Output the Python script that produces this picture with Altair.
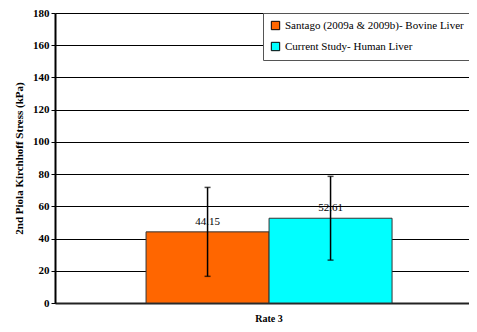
import altair as alt
import pandas as pd

series = ["Santago (2009a & 2009b)- Bovine Liver", "Current Study- Human Liver"]
rates = ["Rate 3", "Rate 3"]
values = [44.15, 52.61]
errors = [27.6, 26.0]
colors = ["#FF6600", "#00FFFF"]
y_ticks = [0, 20, 40, 60, 80, 100, 120, 140, 160, 180]

df = pd.DataFrame({"rate": rates, "series": series, "value": values, "err": errors})
df["lo"] = df["value"] - df["err"]
df["hi"] = df["value"] + df["err"]
df["label"] = df["value"].map(lambda v: f"{v:.2f}")

FONT = "Times New Roman, Liberation Serif, serif"

x = alt.X("rate:N", title=None,
          scale=alt.Scale(paddingInner=0, paddingOuter=0.3415, align=0.542),
          axis=alt.Axis(labelAngle=0, ticks=False, labelFont=FONT, labelFontWeight="bold",
                        labelFontSize=10, labelColor="black", labelPadding=10,
                        domainColor="#222", domainWidth=2))
xo = alt.XOffset("series:N", sort=series)

yscale = alt.Scale(domain=[0, 180], nice=False, zero=True)
yaxis = alt.Axis(values=y_ticks, tickCount=10, grid=True, gridColor="black",
                 gridWidth=1, domainColor="black", domainWidth=2,
                 labelOverlap=False, labelBound=False, labelFlush=False,
                 tickColor="black", tickSize=4, labelFont=FONT,
                 labelFontWeight="bold", labelFontSize=11, labelColor="black",
                 titleFont=FONT, titleFontWeight="bold", titleFontSize=11,
                 titleColor="black", titlePadding=8)
YT = "2nd Piola Kirchhoff Stress (kPa)"

base = alt.Chart(df)

bars = base.mark_bar(stroke="#333", strokeWidth=1).encode(
    x=x, xOffset=xo,
    y=alt.Y("value:Q", title=YT, scale=yscale, axis=yaxis),
    color=alt.Color("series:N", sort=series,
                    scale=alt.Scale(domain=series, range=colors),
                    legend=alt.Legend(title=None, orient="none", legendX=208, legendY=0,
                                      symbolType="square", symbolSize=70,
                                      symbolStrokeColor="black", symbolStrokeWidth=1,
                                      labelFont=FONT, labelFontSize=11, labelColor="black",
                                      fillColor="white", strokeColor="#555",
                                      padding=7, rowPadding=8, labelLimit=300)),
)

rules = base.mark_rule(color="black", strokeWidth=1.5).encode(
    x=x, xOffset=xo, y=alt.Y("lo:Q", title=YT, scale=yscale, axis=yaxis), y2="hi:Q")
caps_hi = base.mark_tick(color="black", thickness=1.5, size=6).encode(
    x=x, xOffset=xo, y=alt.Y("hi:Q", title=YT, scale=yscale, axis=yaxis))
caps_lo = base.mark_tick(color="black", thickness=1.5, size=6).encode(
    x=x, xOffset=xo, y=alt.Y("lo:Q", title=YT, scale=yscale, axis=yaxis))
labels = base.mark_text(font=FONT, fontSize=11, color="black", baseline="bottom", dy=-5).encode(
    x=x, xOffset=xo, y=alt.Y("value:Q", title=YT, scale=yscale, axis=yaxis), text="label:N")

chart = alt.layer(bars, rules, caps_hi, caps_lo, labels).properties(
    width=414, height=290,
    autosize=alt.AutoSizeParams(type="none"),
    padding={"left": 47, "top": 5, "right": 0, "bottom": 28},
).configure_view(stroke=None).configure(background="white")

chart.save("out.html", embed_options={"renderer": "svg", "actions": False})
